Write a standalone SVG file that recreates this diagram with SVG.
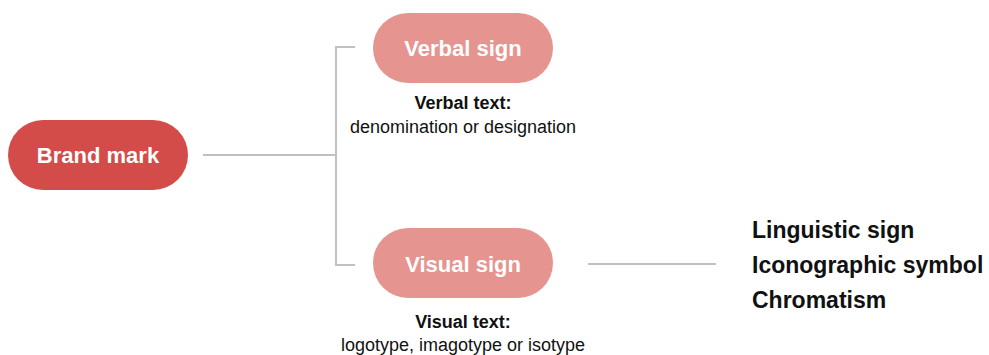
<svg xmlns="http://www.w3.org/2000/svg" width="989" height="355" viewBox="0 0 989 355">
<style>
.bg{fill:#ffffff}
.main{fill:#D34C49}
.sub{fill:#E69490}
.pill-t{font-family:"Liberation Sans",Arial,sans-serif;font-weight:bold;font-size:22px;fill:#ffffff;text-anchor:middle}
.cap-b{font-family:"Liberation Sans",Arial,sans-serif;font-weight:bold;font-size:18px;fill:#111111;text-anchor:middle}
.cap{font-family:"Liberation Sans",Arial,sans-serif;font-size:18px;fill:#111111;text-anchor:middle}
.list{font-family:"Liberation Sans",Arial,sans-serif;font-weight:bold;font-size:23px;fill:#111111}
.conn{stroke:#C0C0C0;stroke-width:2;fill:none}
</style>
<rect class="bg" x="0" y="0" width="989" height="355"/>
<g id="connectors">
<line class="conn" x1="203" y1="155" x2="336" y2="155"/>
<polyline class="conn" points="355,47 336,47 336,265 355,265"/>
<line class="conn" x1="588" y1="264" x2="716" y2="264"/>
</g>
<g id="brand-mark">
<rect class="main" x="8" y="120" width="180" height="70" rx="35"/>
<text class="pill-t" x="98" y="163">Brand mark</text>
</g>
<g id="verbal-sign">
<rect class="sub" x="373" y="13" width="180" height="70" rx="35"/>
<text class="pill-t" x="463" y="56">Verbal sign</text>
<text class="cap-b" x="463" y="109">Verbal text:</text>
<text class="cap" x="463" y="133">denomination or designation</text>
</g>
<g id="visual-sign">
<rect class="sub" x="373" y="228" width="180" height="70" rx="35"/>
<text class="pill-t" x="463" y="272">Visual sign</text>
<text class="cap-b" x="463" y="328">Visual text:</text>
<text class="cap" x="463" y="351">logotype, imagotype or isotype</text>
</g>
<g id="visual-list">
<text class="list" x="752" y="238">Linguistic sign</text>
<text class="list" x="752" y="273">Iconographic symbol</text>
<text class="list" x="752" y="308">Chromatism</text>
</g>
</svg>
